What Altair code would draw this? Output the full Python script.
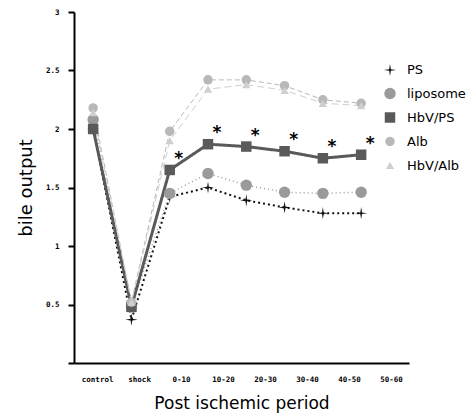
import json
import altair as alt
import pandas as pd

categories = ["control", "shock", "0-10", "10-20", "20-30", "30-40", "40-50", "50-60"]
series_names = ["PS", "liposome", "HbV/PS", "Alb", "HbV/Alb"]
ps = [2.00, 0.37, 1.42, 1.50, 1.39, 1.33, 1.28, 1.28]
liposome = [2.08, 0.48, 1.45, 1.62, 1.52, 1.46, 1.45, 1.46]
hbv_ps = [2.00, 0.48, 1.65, 1.87, 1.85, 1.81, 1.75, 1.78]
alb = [2.18, 0.52, 1.98, 2.42, 2.42, 2.37, 2.25, 2.22]
hbv_alb = [2.14, 0.52, 1.90, 2.34, 2.38, 2.33, 2.22, 2.20]
significant = [False, False, True, True, True, True, True, True]

series_values = [ps, liposome, hbv_ps, alb, hbv_alb]
colors = ["#111111", "#9a9a9a", "#5a5a5a", "#b8b8b8", "#cfcfcf"]
dashes = [[2, 3], [1, 3], [1, 0], [5, 3], [7, 4]]
widths = [2, 1.5, 3, 1, 1]
star = "M0,-1L0.14,-0.14L1,0L0.14,0.14L0,1L-0.14,0.14L-1,0L-0.14,-0.14Z"
shapes = [star, "circle", "square", "circle", "triangle-up"]
sizes = [150, 70, 190, 80, 80]

rows = []
for name, vals in zip(series_names, series_values):
    for i, v in enumerate(vals):
        rows.append({"idx": i, "series": name, "value": v})
df = pd.DataFrame(rows)

sig_df = pd.DataFrame({
    "idx": list(range(len(categories))),
    "value": hbv_ps,
    "sig": significant,
})
sig_df = sig_df[sig_df["sig"]]

# the printed category labels sit on a slightly wider spacing than the plotted points
lab_off, lab_step = 0.104, 1.0966
tick_vals = [lab_off + lab_step * i for i in range(len(categories))]
label_expr = json.dumps(categories) + f"[round((datum.value - {lab_off}) / {lab_step})]"

xq = alt.X(
    "idx:Q",
    scale=alt.Scale(domain=[-0.5, 8.25], nice=False, zero=False),
    axis=alt.Axis(
        values=tick_vals,
        labelExpr=label_expr,
        title="Post ischemic period",
        titleFont="DejaVu Sans",
        titleFontSize=17,
        titleFontWeight="normal",
        titlePadding=13,
        labelFont="DejaVu Sans Mono",
        labelFontWeight="bold",
        labelFontSize=7.5,
        labelAngle=0,
        labelPadding=12,
        labelFlush=False,
        labelOverlap=False,
        ticks=False,
        domainColor="#000",
        domainWidth=2,
        grid=False,
    ),
)
yq = alt.Y(
    "value:Q",
    scale=alt.Scale(domain=[0, 3], nice=False),
    axis=alt.Axis(
        values=[0, 0.5, 1, 1.5, 2, 2.5, 3],
        format="~g",
        labelExpr="datum.value == 0 ? '' : datum.label",
        title="bile output",
        titleFont="DejaVu Sans",
        titleFontSize=18,
        titleFontWeight="normal",
        titlePadding=10,
        labelFont="DejaVu Sans Mono",
        labelFontWeight="bold",
        labelFontSize=7.5,
        labelPadding=9,
        tickSize=6,
        tickWidth=2,
        tickColor="#000",
        domainColor="#000",
        domainWidth=2,
        grid=False,
    ),
)

base = alt.Chart(df)

line_layers = []
for name, col, dash, w in zip(series_names, colors, dashes, widths):
    line_layers.append(
        base.transform_filter(alt.datum.series == name)
        .mark_line(stroke=col, strokeDash=dash, strokeWidth=w)
        .encode(x=xq, y=yq)
    )

legend = alt.Legend(title=None)

points = base.mark_point(filled=True, opacity=1).encode(
    x=xq,
    y=yq,
    color=alt.Color("series:N", scale=alt.Scale(domain=series_names, range=colors), legend=legend),
    shape=alt.Shape("series:N", scale=alt.Scale(domain=series_names, range=shapes), legend=legend),
    size=alt.Size("series:N", scale=alt.Scale(domain=series_names, range=sizes), legend=legend),
)

stars = alt.Chart(sig_df).mark_text(
    text="*", font="DejaVu Sans", fontWeight="bold", fontSize=17, dx=9, dy=-11, color="#000", baseline="middle"
).encode(x=xq, y=yq)

chart = alt.layer(*line_layers, points, stars).properties(
    width=335,
    height=351,
    autosize="none",
    padding={"left": 74, "top": 12, "right": 59, "bottom": 56},
).configure(background="white").configure_view(strokeWidth=0).configure_legend(
    orient="none",
    legendX=309,
    legendY=51,
    labelFont="DejaVu Sans",
    labelFontSize=13,
    labelColor="#000",
    rowPadding=10,
    labelOffset=10,
)

chart.save("out.html", embed_options={"renderer": "svg", "actions": False})
